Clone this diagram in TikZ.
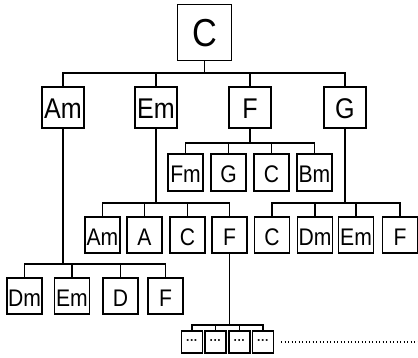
\documentclass[tikz,border=0pt]{standalone}
\usepackage{fontspec}
\setmainfont[FakeStretch=0.88]{Liberation Sans}
\newfontfamily\dotfont{Liberation Sans}
\begin{document}
\begin{tikzpicture}[x=1pt,y=-1pt,
  box/.style={draw, line width=1.3pt, inner sep=0pt, fill=white, text depth=0pt},
  rootbox/.style={box, minimum width=54pt, minimum height=56pt,
    font=\fontsize{39}{40}\selectfont, text height=28pt},
  lvlone/.style={box, minimum width=42pt, minimum height=41pt,
    font=\fontsize{28.5}{30}\selectfont, text height=22.5pt},
  lvl/.style={box, minimum width=35pt, minimum height=36pt,
    font=\fontsize{24}{26}\selectfont, text height=21pt},
  tiny/.style={box, minimum width=21pt, minimum height=22pt,
    font=\dotfont\bfseries\fontsize{12}{12}\selectfont, text depth=, text height=},
  wire/.style={line width=1.3pt},
  trail/.style={line width=1.8pt, dash pattern=on 1.4pt off 2.1pt}]
\useasboundingbox (0,0) rectangle (418,358);
% root
\node[rootbox] (C0) at (204.5,32.5) {C};
% level 1
\node[lvlone] (Am1) at (63,107.5) {Am};
\node[lvlone] (Em1) at (156,107.5) {Em};
\node[lvlone] (F1) at (250,107.5) {F};
\node[lvlone] (G1) at (345,107.5) {G};
% children of F
\node[lvl, minimum height=37pt] (Fm2) at (185.5,172.5) {Fm};
\node[lvl, minimum height=37pt] (G2) at (228.5,172.5) {G};
\node[lvl, minimum height=37pt] (C2) at (271.5,172.5) {C};
\node[lvl, minimum height=37pt] (Bm2) at (314.5,172.5) {Bm};
% level 3
\node[lvl] (Am3) at (102.5,235) {Am};
\node[lvl] (A3) at (144.5,235) {A};
\node[lvl] (C3) at (187.5,235) {C};
\node[lvl] (F3) at (229.5,235) {F};
\node[lvl] (C3b) at (272,235) {C};
\node[lvl] (Dm3) at (315,235) {Dm};
\node[lvl] (Em3) at (356,235) {Em};
\node[lvl] (F3b) at (400,235) {F};
% level 4
\node[lvl] (Dm4) at (24.5,296) {Dm};
\node[lvl] (Em4) at (72,296) {Em};
\node[lvl] (D4) at (120.5,296) {D};
\node[lvl] (F4) at (165.5,296) {F};
% small boxes
\node[tiny] (s1) at (192,342) {···};
\node[tiny] (s2) at (215.5,342) {···};
\node[tiny] (s3) at (239.5,342) {···};
\node[tiny] (s4) at (263,342) {···};
% bus points
\coordinate (b0) at (204.5,73);
\coordinate (bF) at (250,143);
\coordinate (bEm) at (156,203);
\coordinate (bG) at (345,203);
\coordinate (bAm) at (63,264);
\coordinate (bF3) at (229.5,325);
\coordinate (tA) at (281,342);
\coordinate (tB) at (418,342);
% connectors
\draw[wire] (C0.south) -- (b0);
\foreach \n in {Am1,Em1,F1,G1} \draw[wire] (\n.north) |- (b0);
\draw[wire] (F1.south) -- (bF);
\foreach \n in {Fm2,G2,C2,Bm2} \draw[wire] (\n.north) |- (bF);
\draw[wire] (Em1.south) -- (bEm);
\foreach \n in {Am3,A3,C3,F3} \draw[wire] (\n.north) |- (bEm);
\draw[wire] (G1.south) -- (bG);
\foreach \n in {C3b,Dm3,Em3,F3b} \draw[wire] (\n.north) |- (bG);
\draw[wire] (Am1.south) -- (bAm);
\foreach \n in {Dm4,Em4,D4,F4} \draw[wire] (\n.north) |- (bAm);
\draw[wire] (F3.south) -- (bF3);
\foreach \n in {s1,s2,s3,s4} \draw[wire] (\n.north) |- (bF3);
\draw[trail] (tA) -- (tB);
\end{tikzpicture}
\end{document}
